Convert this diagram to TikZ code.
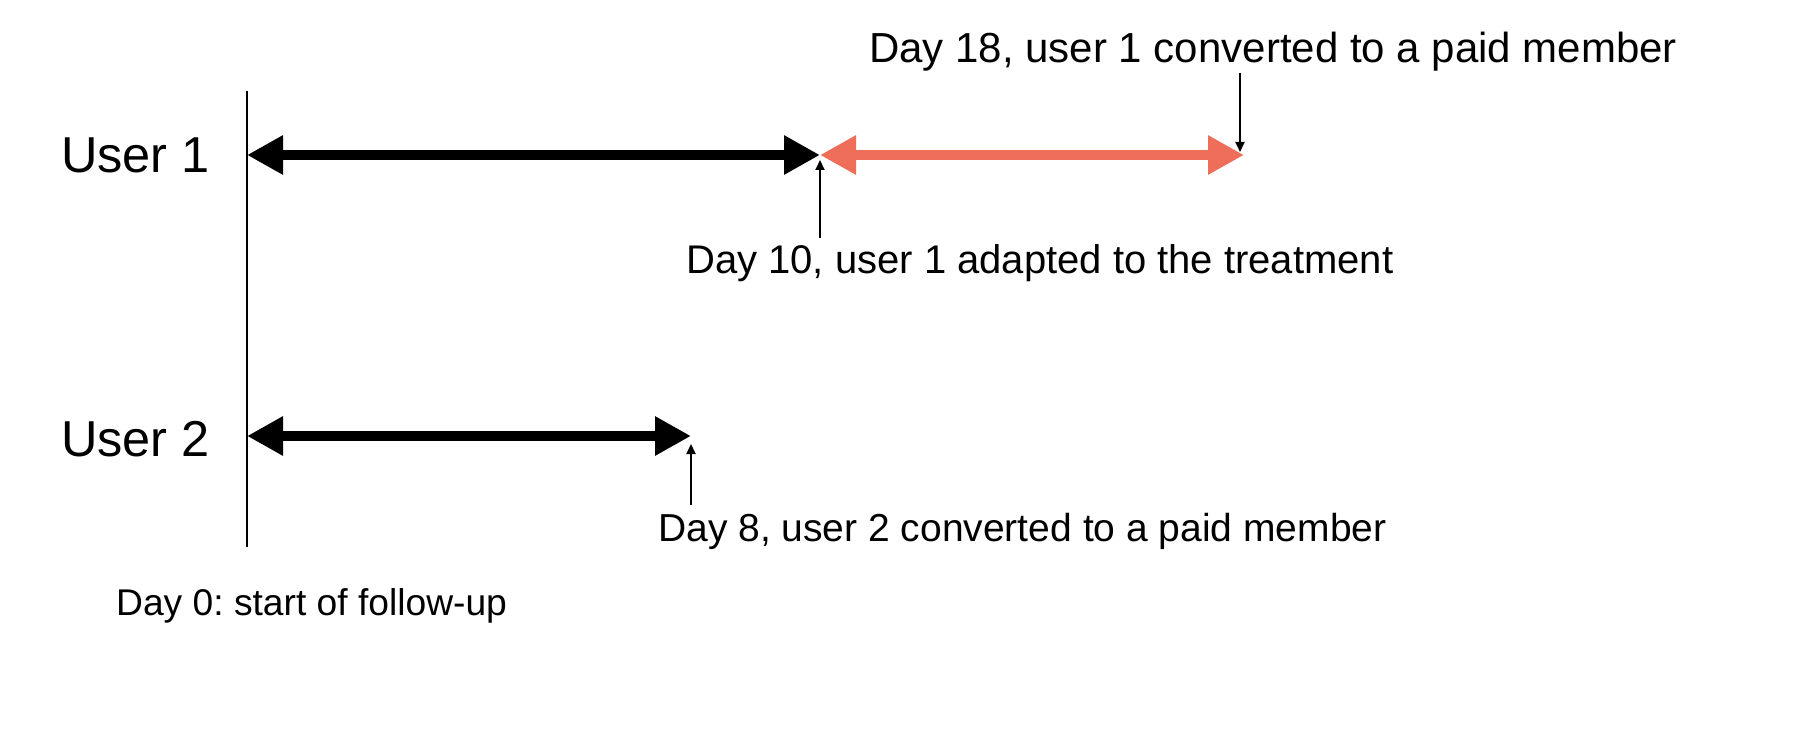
\documentclass[tikz,border=0pt]{standalone}
\usepackage{fontspec}
\setmainfont{Liberation Sans}
\usetikzlibrary{arrows.meta}
\definecolor{salmon}{RGB}{238,110,90}
\frenchspacing
\begin{document}
\begin{tikzpicture}[x=1pt,y=-1pt,
  bigarrow/.style={line width=10pt,{Triangle[length=36pt,width=37pt]}-{Triangle[length=36pt,width=37pt]}},
  pointer/.style={line width=2pt,-{Triangle[length=10pt,width=9pt]}},
  userlabel/.style={anchor=base west,inner sep=0pt,font=\fontsize{50.5}{60}\selectfont},
  daylabel/.style={anchor=base west,inner sep=0pt,font=\fontsize{42}{50}\selectfont},
  daysmall/.style={anchor=base west,inner sep=0pt,font=\fontsize{37.2}{45}\selectfont}]
\useasboundingbox (0,0) rectangle (1794,754);
% axis
\coordinate (axtop) at (247,91);
\coordinate (axbot) at (247,547);
\draw[line width=2pt] (axtop) -- (axbot);
% arrow end points
\coordinate (u1s) at (247,155);
\coordinate (u1m) at (820,155);
\coordinate (u1e) at (1244,155);
\coordinate (u2s) at (247,436);
\coordinate (u2e) at (691,436);
\draw[bigarrow] (u1s) -- (u1m);
\draw[bigarrow,salmon] (u1m) -- (u1e);
\draw[bigarrow] (u2s) -- (u2e);
% labels
\node[userlabel] (user1) at (61,173) {User 1};
\node[userlabel] (user2) at (61,456) {User 2};
\node[daylabel] (d18) at (869,63) {Day 18, user 1 converted to a paid member};
\node[daylabel,font=\fontsize{40}{48}\selectfont] (d10) at (686,273) {Day 10, user 1 adapted to the treatment};
\node[daylabel,font=\fontsize{39}{47}\selectfont] (d8) at (658,541) {Day 8, user 2 converted to a paid member};
\node[daysmall] (d0) at (116,615) {Day 0: start of follow-up};
% pointers
\coordinate (p18a) at (1240,73);
\coordinate (p18b) at (1240,152);
\coordinate (p10a) at (820,238);
\coordinate (p10b) at (820,160);
\coordinate (p8a) at (691,505);
\coordinate (p8b) at (691,444);
\draw[pointer] (p18a) -- (p18b);
\draw[pointer] (p10a) -- (p10b);
\draw[pointer] (p8a) -- (p8b);
\end{tikzpicture}
\end{document}
